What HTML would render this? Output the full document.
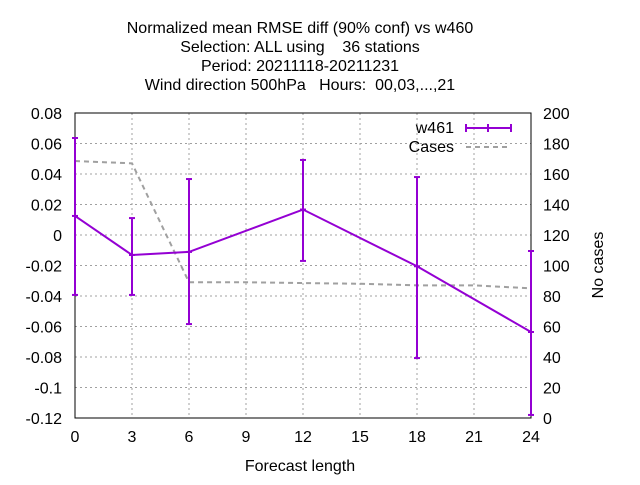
<!DOCTYPE html>
<html><head><meta charset="utf-8"><style>
body{margin:0;background:#fff}
svg text{font-family:"Liberation Sans",sans-serif;font-size:16px;fill:#000;white-space:pre}
</style></head><body>
<svg id="c" width="640" height="480" xml:space="preserve">
<g id="title" text-anchor="middle">
<text x="300" y="33">Normalized mean RMSE diff (90% conf) vs w460</text>
<text x="300" y="52">Selection: ALL using    36 stations</text>
<text x="300" y="71">Period: 20211118-20211231</text>
<text x="300" y="90">Wind direction 500hPa   Hours:  00,03,...,21</text>
</g>
<g id="grid"></g>
<g id="axes"></g>
<g id="series"></g>
<text x="300" y="471" text-anchor="middle">Forecast length</text>
<text transform="translate(603,265) rotate(-90)" text-anchor="middle">No cases</text>
<g>
<text x="454" y="133" text-anchor="end">w461</text>
<g stroke="#9400d3" stroke-width="2"><line x1="466" y1="128" x2="511" y2="128"/><line x1="466" y1="124" x2="466" y2="132"/><line x1="511" y1="124" x2="511" y2="132"/><line x1="488" y1="124" x2="488" y2="132"/></g>
<text x="454" y="152" text-anchor="end">Cases</text>
<line x1="466" y1="147" x2="511" y2="147" stroke="#a0a0a0" stroke-width="2" stroke-dasharray="5,4"/>
</g>
</svg>
<script>
const xTicks=[0,3,6,9,12,15,18,21,24];
const yTicks=[0.08,0.06,0.04,0.02,0,-0.02,-0.04,-0.06,-0.08,-0.1,-0.12];
const yLabels=["0.08","0.06","0.04","0.02","0","-0.02","-0.04","-0.06","-0.08","-0.1","-0.12"];
const y2Ticks=[0,20,40,60,80,100,120,140,160,180,200];
const w461X=[0,3,6,12,18,24];
const w461Y=[0.0125,-0.0131,-0.0111,0.0167,-0.0205,-0.0636];
const w461Lo=[-0.0393,-0.0393,-0.0584,-0.017,-0.0807,-0.118];
const w461Hi=[0.0636,0.0111,0.0367,0.0492,0.038,-0.0105];
const casesX=[0,3,6,9,12,15,18,21,24];
const casesY=[168.5,167,89,89,88.5,88,87,87,85];
const L=75,R=531,T=113,B=418;
const sx=v=>L+(v-0)/(24-0)*(R-L);
const sy=v=>T+(0.08-v)/(0.2)*(B-T);
const sy2=v=>B-v/200*(B-T);
const NS="http://www.w3.org/2000/svg";
function mk(p,tag,a){const e=document.createElementNS(NS,tag);for(const k in a)e.setAttribute(k,a[k]);p.appendChild(e);return e;}
const grid=document.getElementById('grid'),axes=document.getElementById('axes'),ser=document.getElementById('series');
xTicks.forEach(t=>{
 const g=mk(grid,'line',{x1:sx(t),x2:sx(t),y1:T,y2:B,stroke:'#a0a0a0','stroke-dasharray':'2,3'});
 
 
 const tx=mk(axes,'text',{x:sx(t),y:B+24,'text-anchor':'middle'});tx.textContent=t;
 
 
});
yTicks.forEach((t,i)=>{
 const g=mk(grid,'line',{x1:L,x2:R,y1:sy(t),y2:sy(t),stroke:'#a0a0a0','stroke-dasharray':'2,3'});
 
 
 const tx=mk(axes,'text',{x:L-13,y:sy(t)+6,'text-anchor':'end'});tx.textContent=yLabels[i];
 
 
});
y2Ticks.forEach(t=>{
 const tx=mk(axes,'text',{x:R+12,y:sy2(t)+6,'text-anchor':'start'});tx.textContent=t;
 
 
});
const fr=mk(axes,'rect',{x:L,y:T,width:R-L,height:B-T,fill:'none',stroke:'#000','stroke-width':1});


const cp=mk(ser,'polyline',{points:casesX.map((x,i)=>sx(x)+','+sy2(casesY[i])).join(' '),fill:'none',stroke:'#a0a0a0','stroke-width':2,'stroke-dasharray':'5,4'});


const wp=mk(ser,'polyline',{points:w461X.map((x,i)=>sx(x)+','+sy(w461Y[i])).join(' '),fill:'none',stroke:'#9400d3','stroke-width':2});


w461X.forEach((x,i)=>{
 const g=mk(ser,'g',{stroke:'#9400d3','stroke-width':2});
 
 
 const X=sx(x);
 mk(g,'line',{x1:X,x2:X,y1:sy(w461Lo[i]),y2:sy(w461Hi[i])});
 mk(g,'line',{x1:X-3,x2:X+3,y1:sy(w461Lo[i]),y2:sy(w461Lo[i])});
 mk(g,'line',{x1:X-3,x2:X+3,y1:sy(w461Hi[i]),y2:sy(w461Hi[i])});
 mk(g,'line',{x1:X-3,x2:X+3,y1:sy(w461Y[i]),y2:sy(w461Y[i])});
});
</script>
</body></html>
